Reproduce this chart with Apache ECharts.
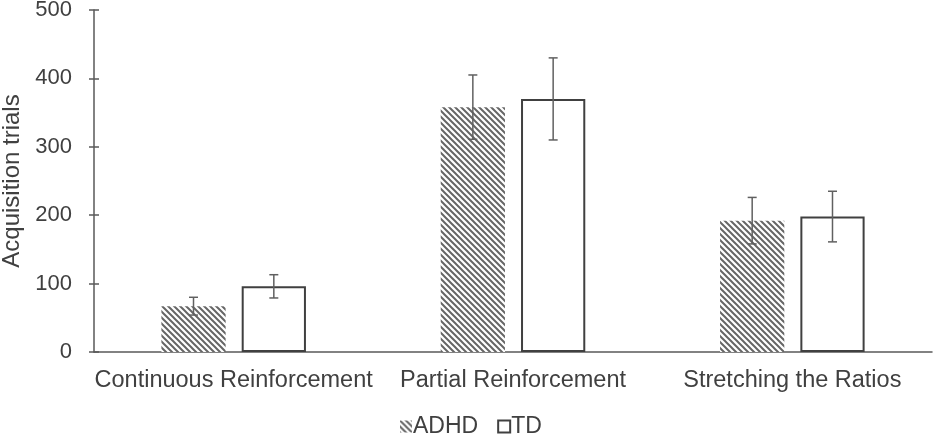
<!DOCTYPE html>
<html>
<head>
<meta charset="utf-8">
<script src="https://cdn.jsdelivr.net/npm/echarts@6/dist/echarts.min.js"></script>
<style>
  html, body { margin: 0; padding: 0; background: #fff; }
  #chart { width: 933px; height: 442px; }
</style>
</head>
<body>
<div id="chart"></div>
<script>
var categories = ['Continuous Reinforcement', 'Partial Reinforcement', 'Stretching the Ratios'];
var adhdMean = [67, 358, 192];
var adhdErr = [13, 47, 34];
var tdMean = [96, 370, 198];
var tdErr = [17, 60, 37];

var BAR_W = 0.23, BAR_GAP = 0.25;

// diagonal hatch for ADHD bars
function hatch() {
    var s = 6;
    var c = document.createElement('canvas');
    c.width = s; c.height = s;
    var ctx = c.getContext('2d');
    ctx.fillStyle = '#fff';
    ctx.fillRect(0, 0, s, s);
    ctx.strokeStyle = '#666';
    ctx.lineWidth = 2;
    ctx.beginPath();
    ctx.moveTo(-1, -1); ctx.lineTo(s + 1, s + 1);
    ctx.moveTo(-1, s - 1); ctx.lineTo(1, s + 1);
    ctx.moveTo(s - 1, -1); ctx.lineTo(s + 1, 1);
    ctx.stroke();
    return c;
}

function errData(mean, err) {
    return mean.map(function (m, i) { return [i, m - err[i], m + err[i]]; });
}

function errSeries(mean, err, side) {
    return {
        type: 'custom',
        silent: true,
        z: 5,
        data: errData(mean, err),
        renderItem: function (params, api) {
            var bw = api.size([1, 0])[0];
            var w = bw * BAR_W;
            var off = side * w * (0.5 + BAR_GAP / 2);
            var lo = api.coord([api.value(0), api.value(1)]);
            var hi = api.coord([api.value(0), api.value(2)]);
            var x = lo[0] + off;
            var cap = 4.5;
            var st = { stroke: '#606060', lineWidth: 1.5 };
            return {
                type: 'group',
                children: [
                    { type: 'line', shape: { x1: x, y1: lo[1], x2: x, y2: hi[1] }, style: st },
                    { type: 'line', shape: { x1: x - cap, y1: hi[1], x2: x + cap, y2: hi[1] }, style: st },
                    { type: 'line', shape: { x1: x - cap, y1: lo[1], x2: x + cap, y2: lo[1] }, style: st }
                ]
            };
        }
    };
}

var myChart = echarts.init(document.getElementById('chart'));
var font = 'Liberation Sans, Arial, sans-serif';
var option = {
    animation: false,
    textStyle: { fontFamily: font, color: '#404040' },
    grid: { left: 94, right: 1, top: 10, bottom: 90, outerBoundsMode: 'none' },
    legend: {
        top: 410,
        left: 395,
        itemWidth: 12,
        itemHeight: 12,
        itemGap: 19,
        icon: 'rect',
        textStyle: { fontSize: 23, color: '#404040', fontFamily: font, padding: [0, 0, 0, -4] },
        data: ['ADHD', 'TD']
    },
    xAxis: {
        type: 'category',
        data: categories,
        axisLine: { lineStyle: { color: '#595959', width: 1.5 } },
        axisTick: { show: false },
        axisLabel: { fontSize: 23.5, color: '#404040', margin: 17, interval: 0, hideOverlap: false }
    },
    yAxis: [{
        type: 'value',
        min: 0, max: 500, interval: 100,
        name: 'Acquisition trials',
        nameLocation: 'middle',
        nameGap: 68,
        nameTextStyle: { fontSize: 24, color: '#404040' },
        axisLine: { show: true, lineStyle: { color: '#595959', width: 1.5 } },
        axisTick: { show: true, length: 5, lineStyle: { color: '#595959', width: 1.5 } },
        axisLabel: { fontSize: 22, color: '#404040', margin: 22 },
        splitLine: { show: false }
    }, {
        type: 'value',
        position: 'left',
        offset: 0,
        min: 0, max: 500, interval: 100,
        axisLine: { show: false },
        axisTick: { show: true, inside: true, length: 5, lineStyle: { color: '#595959', width: 1.5 } },
        axisLabel: { show: false },
        splitLine: { show: false }
    }],
    series: [{
        name: 'ADHD',
        type: 'bar',
        barWidth: (BAR_W * 100) + '%',
        barGap: (BAR_GAP * 100) + '%',
        itemStyle: { color: { image: hatch(), repeat: 'repeat' } },
        data: adhdMean
    }, {
        name: 'TD',
        type: 'bar',
        barWidth: (BAR_W * 100) + '%',
        itemStyle: { color: '#fff', borderColor: '#404040', borderWidth: 2 },
        data: tdMean
    },
        errSeries(adhdMean, adhdErr, -1),
        errSeries(tdMean, tdErr, 1)
    ]
};
option && myChart.setOption(option);
</script>
</body>
</html>
